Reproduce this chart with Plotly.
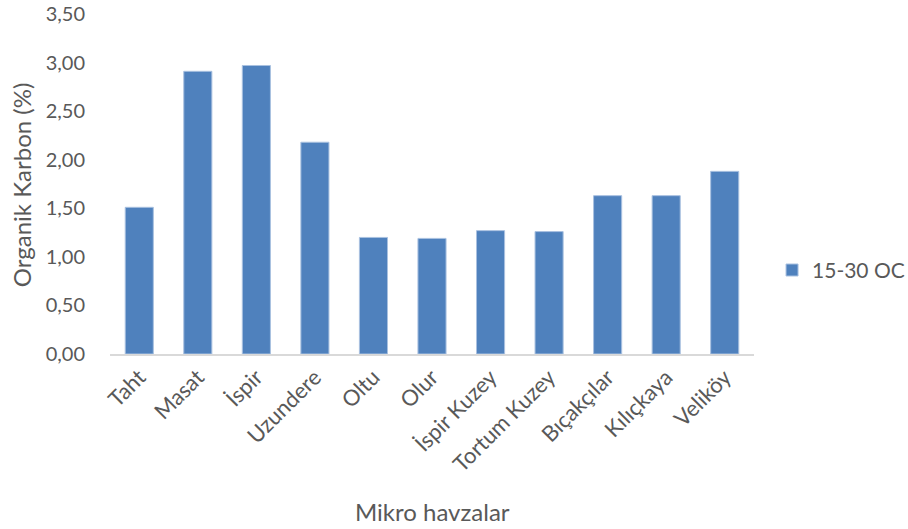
import plotly.graph_objects as go

# Micro-catchments and organic carbon (15-30 cm layer)
categories = ["Taht", "Masat", "İspir", "Uzundere", "Oltu", "Olur",
              "İspir Kuzey", "Tortum Kuzey", "Bıçakçılar", "Kılıçkaya", "Veliköy"]
oc_15_30 = [1.51, 2.91, 2.97, 2.18, 1.20, 1.19, 1.27, 1.26, 1.63, 1.63, 1.88]

y_ticks = [0, 0.5, 1.0, 1.5, 2.0, 2.5, 3.0, 3.5]
y_tick_labels = ["0,00", "0,50", "1,00", "1,50", "2,00", "2,50", "3,00", "3,50"]

FONT = "Lato, Open Sans, sans-serif"
GREY = "#595959"

fig = go.Figure()
fig.add_trace(go.Bar(
    x=categories,
    y=oc_15_30,
    name="15-30 OC",
    marker=dict(color="#4F81BD", line=dict(color="#A9C1E0", width=1)),
))

fig.update_layout(
    width=908,
    height=529,
    margin=dict(l=110, r=154, t=14, b=175, autoexpand=False),
    paper_bgcolor="white",
    plot_bgcolor="white",
    bargap=0.52,
    font=dict(family=FONT, color=GREY, size=20),
    showlegend=True,
    legend=dict(
        x=1.028, y=0.246, xanchor="left", yanchor="middle",
        font=dict(size=21, color=GREY),
        bgcolor="rgba(0,0,0,0)",
        itemwidth=30,
    ),
    xaxis=dict(
        showgrid=False,
        showline=True,
        linecolor="#D9D9D9",
        linewidth=1.5,
        tickangle=-45,
        tickfont=dict(size=22, color=GREY),
        ticks="",
    ),
    yaxis=dict(
        range=[0, 3.5],
        tickvals=y_ticks,
        ticktext=y_tick_labels,
        showgrid=False,
        zeroline=False,
        showline=False,
        ticks="outside",
        ticklen=20,
        tickcolor="rgba(0,0,0,0)",
        tickfont=dict(size=20, color=GREY),
    ),
    annotations=[
        dict(text="Mikro havzalar", xref="paper", yref="paper",
             x=0.5, y=-0.463, xanchor="center", yanchor="middle",
             showarrow=False, font=dict(size=24, color=GREY)),
        dict(text="Organik Karbon (%)", xref="paper", yref="paper",
             x=-0.137, y=0.496, xanchor="center", yanchor="middle",
             textangle=-90, showarrow=False, font=dict(size=24, color=GREY)),
    ],
)

fig.write_html("out.html")
